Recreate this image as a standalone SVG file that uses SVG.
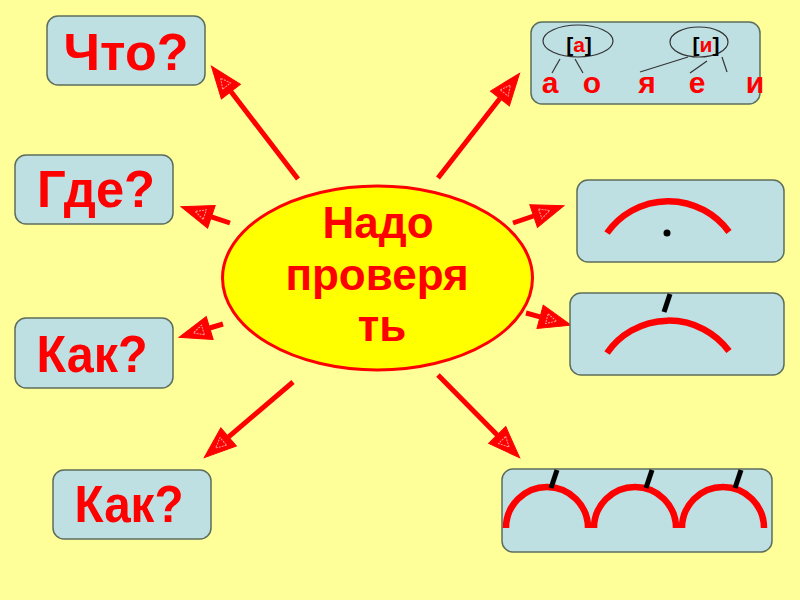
<svg xmlns="http://www.w3.org/2000/svg" width="800" height="600" viewBox="0 0 800 600">
  <defs>
    <style>
      .box { fill: #BEE0E3; stroke: #5E6E5C; stroke-width: 1.5; }
      .q { font-family: "Liberation Sans", Arial, sans-serif; font-weight: bold; font-size: 52px; fill: #FF0000; text-anchor: middle; }
      .center { font-family: "Liberation Sans", Arial, sans-serif; font-weight: bold; font-size: 44px; fill: #FF0000; text-anchor: middle; }
      .vow { font-family: "Liberation Sans", Arial, sans-serif; font-weight: bold; font-size: 30px; fill: #FF0000; text-anchor: middle; }
      .snd { font-family: "Liberation Sans", Arial, sans-serif; font-weight: bold; font-size: 21px; fill: #000000; text-anchor: middle; }
      .conn { stroke: #FF0000; stroke-width: 5; fill: none; marker-end: url(#arrow); }
      .arc { stroke: #FF0000; stroke-width: 6.5; fill: none; }
      .tick { stroke: #000000; stroke-width: 5; }
      .thin { stroke: #333333; stroke-width: 1.2; fill: none; }
    </style>
    <marker id="arrow" markerUnits="userSpaceOnUse" markerWidth="34" markerHeight="26" viewBox="0 -13 34 26" refX="0" refY="0" orient="auto" overflow="visible">
      <path d="M0,-12 L32,0 L0,12 Z" fill="#FF0000" stroke="#FF0000" stroke-width="1" stroke-linejoin="miter"/>
      <path d="M7,-5 L17,0 L7,5 Z" fill="none" stroke="#FF9A9A" stroke-width="1" stroke-dasharray="2,1"/>
    </marker>
  </defs>

  <rect width="800" height="600" fill="#FFFF99"/>

  <g id="connectors">
    <line class="conn" x1="298" y1="179" x2="230.9" y2="91.6"/>
    <line class="conn" x1="230" y1="223" x2="211.4" y2="216.8"/>
    <line class="conn" x1="223" y1="324" x2="209.7" y2="328"/>
    <line class="conn" x1="293" y1="382" x2="228.6" y2="436.9"/>
    <line class="conn" x1="438" y1="178" x2="499.9" y2="98.5"/>
    <line class="conn" x1="513" y1="223" x2="533.6" y2="216"/>
    <line class="conn" x1="526" y1="313" x2="540.1" y2="316.8"/>
    <line class="conn" x1="438" y1="375" x2="497.2" y2="435"/>
  </g>

  <g id="center">
    <ellipse cx="377.5" cy="278" rx="155" ry="92" fill="#FFFF00" stroke="#FF0000" stroke-width="3"/>
    <text class="center" x="378" y="238">Надо</text>
    <text class="center" x="377" y="290">проверя</text>
    <text class="center" x="382" y="341">ть</text>
  </g>

  <g id="what">
    <rect class="box" x="47" y="16" width="158" height="69" rx="11"/>
    <text class="q" x="126" y="70">Что?</text>
  </g>
  <g id="where">
    <rect class="box" x="15" y="155" width="158" height="69" rx="11"/>
    <text class="q" x="96" y="207" textLength="118" lengthAdjust="spacingAndGlyphs">Где?</text>
  </g>
  <g id="how1">
    <rect class="box" x="15" y="318" width="158" height="70" rx="11"/>
    <text class="q" x="92" y="372" textLength="111" lengthAdjust="spacingAndGlyphs">Как?</text>
  </g>
  <g id="how2">
    <rect class="box" x="53" y="470" width="158" height="69" rx="11"/>
    <text class="q" x="129" y="522" textLength="109" lengthAdjust="spacingAndGlyphs">Как?</text>
  </g>

  <g id="vowels">
    <rect class="box" x="531" y="22" width="229" height="82" rx="11"/>
    <ellipse class="thin" cx="578" cy="41" rx="35" ry="16"/>
    <ellipse class="thin" cx="699" cy="42" rx="29" ry="15"/>
    <text class="snd" x="579" y="52">[<tspan fill="#FF0000">а</tspan>]</text>
    <text class="snd" x="706" y="52">[<tspan fill="#FF0000">и</tspan>]</text>
    <line class="thin" x1="560" y1="59" x2="552" y2="73"/>
    <line class="thin" x1="575" y1="59" x2="583" y2="73"/>
    <line class="thin" x1="688" y1="57" x2="640" y2="72"/>
    <line class="thin" x1="707" y1="61" x2="690" y2="73"/>
    <line class="thin" x1="722" y1="57" x2="727" y2="72"/>
    <text class="vow" x="550" y="93">а</text>
    <text class="vow" x="592" y="93">о</text>
    <text class="vow" x="647" y="93">я</text>
    <text class="vow" x="697" y="93">е</text>
    <text class="vow" x="755" y="93">и</text>
  </g>

  <g id="scheme1">
    <rect class="box" x="577" y="180" width="207" height="82" rx="11"/>
    <path class="arc" d="M607,233 A75,75 0 0 1 729,232"/>
    <circle cx="667" cy="233" r="3.5" fill="#000000"/>
  </g>

  <g id="scheme2">
    <rect class="box" x="570" y="293" width="214" height="82" rx="11"/>
    <path class="arc" d="M607,353 A75,75 0 0 1 729,351"/>
    <line class="tick" x1="670" y1="294" x2="664" y2="312"/>
  </g>

  <g id="scheme3">
    <rect class="box" x="502" y="469" width="270" height="83" rx="11"/>
    <path class="arc" d="M506,528 A41,41 0 1 1 588,528"/>
    <path class="arc" d="M594,528 A41,41 0 1 1 676,528"/>
    <path class="arc" d="M682,528 A41,41 0 1 1 764,528"/>
    <line class="tick" x1="557" y1="470" x2="551" y2="488"/>
    <line class="tick" x1="652" y1="470" x2="646" y2="488"/>
    <line class="tick" x1="741" y1="470" x2="735" y2="488"/>
  </g>
</svg>
